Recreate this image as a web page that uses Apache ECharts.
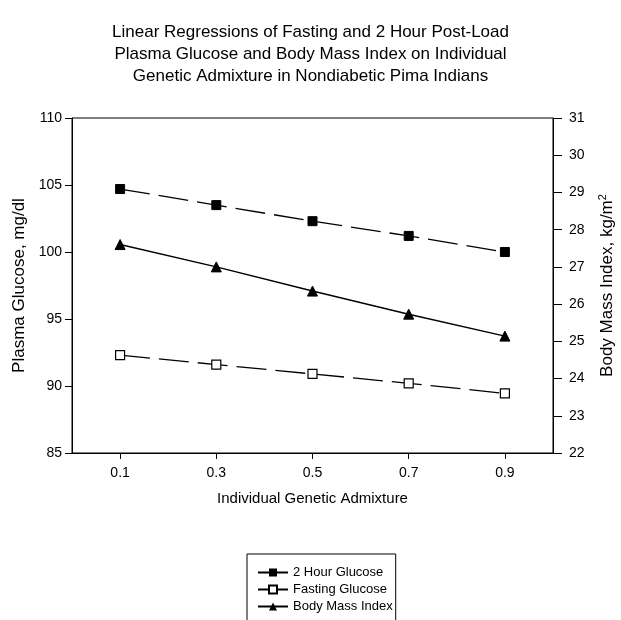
<!DOCTYPE html>
<html>
<head>
<meta charset="utf-8">
<script src="https://cdn.jsdelivr.net/npm/echarts@6/dist/echarts.min.js"></script>
<style>
    html, body { margin: 0; padding: 0; background: #fff; }
    #chart { width: 621px; height: 620px; }
</style>
</head>
<body>
<div id="chart"></div>
<script>
    // x positions (individual genetic admixture)
    let admixture = [0.1, 0.3, 0.5, 0.7, 0.9];
    let twoHourGlucose = [104.7, 103.5, 102.3, 101.2, 100.0];
    let fastingGlucose = [92.3, 91.6, 90.9, 90.2, 89.45];
    let bodyMassIndex = [27.6, 27.0, 26.35, 25.73, 25.14];

    function pairs(ys) {
        return admixture.map((x, i) => [x, ys[i]]);
    }

    let myChart = echarts.init(document.getElementById('chart'));
    let font = 'Liberation Sans, Arial, sans-serif';
    let option = {
        backgroundColor: '#fff',
        textStyle: { fontFamily: font, color: '#000' },
        title: {
            text: 'Linear Regressions of Fasting and 2 Hour Post-Load\nPlasma Glucose and Body Mass Index on Individual\nGenetic Admixture in Nondiabetic Pima Indians',
            left: 'center',
            top: 16,
            textStyle: { fontSize: 17, fontWeight: 'normal', lineHeight: 22, color: '#000', fontFamily: font }
        },
        grid: {
            left: 72, right: 68, top: 118, bottom: 167,
            outerBoundsMode: 'none',
            show: true, borderColor: '#000', borderWidth: 1
        },
        legend: {
            orient: 'vertical',
            left: 247,
            top: 554,
            height: 60,
            padding: [12, 3, 12, 10],
            borderColor: '#000',
            borderWidth: 1,
            itemGap: 4,
            itemWidth: 30,
            itemHeight: 10,
            textStyle: { fontSize: 13, color: '#000', fontFamily: font },
            data: ['2 Hour Glucose', 'Fasting Glucose', 'Body Mass Index']
        },
        xAxis: {
            type: 'value',
            min: 0, max: 1,
            name: 'Individual Genetic Admixture',
            nameLocation: 'middle',
            nameGap: 38,
            nameTextStyle: { fontSize: 15, color: '#000' },
            axisLine: { lineStyle: { color: '#000' } },
            axisTick: { show: true, customValues: admixture, length: 6, lineStyle: { color: '#000' } },
            axisLabel: { customValues: admixture, fontSize: 14, color: '#000', margin: 13 },
            splitLine: { show: false }
        },
        yAxis: [{
            type: 'value',
            min: 85, max: 110, interval: 5,
            name: 'Plasma Glucose, mg/dl',
            nameLocation: 'middle',
            nameGap: 43,
            nameTextStyle: { fontSize: 17, color: '#000' },
            axisLine: { show: true, lineStyle: { color: '#000' } },
            axisTick: { show: true, length: 7, lineStyle: { color: '#000' } },
            axisLabel: { fontSize: 14, color: '#000', margin: 10 },
            splitLine: { show: false }
        }, {
            type: 'value',
            min: 22, max: 31, interval: 1,
            position: 'right',
            name: 'Body Mass Index, kg/m{sup|2}',
            nameLocation: 'middle',
            nameGap: 44,
            nameRotate: 90,
            nameTextStyle: {
                fontSize: 17, color: '#000',
                rich: { sup: { fontSize: 11, verticalAlign: 'top', padding: [0, 0, 9, 0], color: '#000' } }
            },
            axisLine: { show: true, lineStyle: { color: '#000' } },
            axisTick: { show: true, length: 9, lineStyle: { color: '#000' } },
            axisLabel: { fontSize: 14, color: '#000', margin: 16 },
            splitLine: { show: false }
        }],
        series: [{
            name: '2 Hour Glucose',
            type: 'line',
            yAxisIndex: 0,
            data: pairs(twoHourGlucose),
            symbol: 'rect',
            symbolSize: 9,
            itemStyle: { color: '#000', borderColor: '#000' },
            lineStyle: { color: '#000', width: 1.3, type: [30, 9] }
        }, {
            name: 'Fasting Glucose',
            type: 'line',
            yAxisIndex: 0,
            data: pairs(fastingGlucose),
            symbol: 'rect',
            symbolSize: 9,
            itemStyle: { color: '#fff', borderColor: '#000', borderWidth: 1.2 },
            lineStyle: { color: '#000', width: 1.3, type: [30, 9] }
        }, {
            name: 'Body Mass Index',
            type: 'line',
            yAxisIndex: 1,
            data: pairs(bodyMassIndex),
            symbol: 'triangle',
            symbolSize: 10,
            itemStyle: { color: '#000', borderColor: '#000' },
            lineStyle: { color: '#000', width: 1.5 }
        }]
    };
    myChart.setOption(option);
</script>
</body>
</html>
